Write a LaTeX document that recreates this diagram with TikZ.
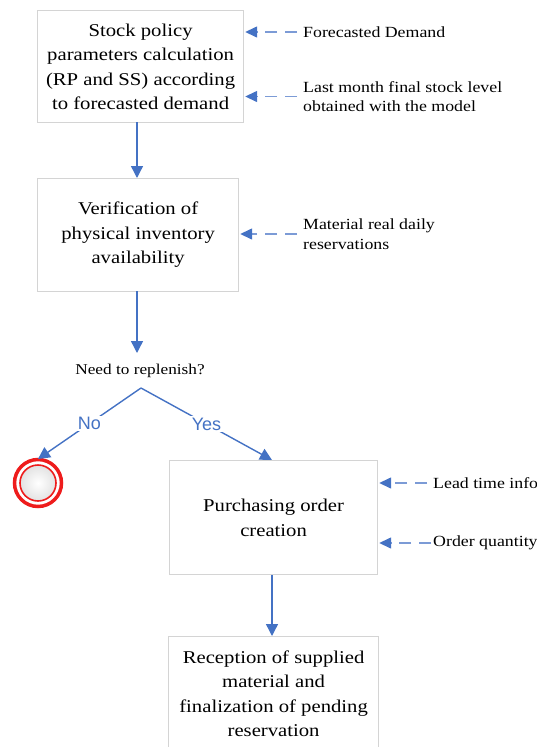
\documentclass[tikz,border=0pt]{standalone}
\usepackage{fontspec}
\setmainfont[FakeStretch=1.15]{Liberation Serif}
\newfontfamily\labelsans{Liberation Sans}
\usetikzlibrary{arrows.meta}
\definecolor{flowblue}{HTML}{4472C4}
\definecolor{dashblue}{HTML}{7C9BD6}
\definecolor{boxgray}{HTML}{D4D4D4}
\definecolor{stopred}{HTML}{EE1C1C}
\begin{document}
\begin{tikzpicture}[x=1pt,y=-1pt,
  stepbox/.style={draw=boxgray, line width=1.2pt, align=center,
    font=\fontsize{18}{24.5}\selectfont, inner sep=0pt, anchor=north west},
  flow/.style={draw=flowblue, line width=1.4pt, -{Triangle[length=12pt,width=12pt]}},
  feed/.style={draw=dashblue, line width=1.4pt, dash pattern=on 12pt off 8pt,
    -{Triangle[length=12pt,width=11pt,color=flowblue]}, shorten >=1pt},
  note/.style={font=\fontsize{15.5}{19.5}\selectfont, align=left, anchor=west, inner sep=0pt},
  branch/.style={font=\labelsans\fontsize{18}{20}\selectfont, text=flowblue, fill=white, inner sep=1.5pt},
]
\useasboundingbox (0,0) rectangle (537,747);
\clip (0,0) rectangle (537,747);

% process steps
\node[stepbox, minimum width=206pt, minimum height=112pt] (calc) at (37,10)
  {Stock policy\\parameters calculation\\(RP and SS) according\\to forecasted demand};
\node[stepbox, minimum width=201pt, minimum height=113pt] (verify) at (37,178)
  {Verification of\\physical inventory\\availability};
\node[stepbox, minimum width=208pt, minimum height=114pt] (order) at (169,460)
  {Purchasing order\\creation};
\node[stepbox, minimum width=210pt, minimum height=114pt] (receive) at (168,636)
  {Reception of supplied\\material and\\finalization of pending\\reservation};

% external inputs
\node[note] (fcast) at (303,32) {Forecasted Demand};
\node[note] (last) at (303,96.5) {Last month final stock level\\obtained with the model};
\node[note] (reserv) at (303,234) {Material real daily\\reservations};
\node[note] (lead) at (433,483) {Lead time info};
\node[note] (qty) at (433,543) {Order quantity};

\draw[feed] ([xshift=-6pt]fcast.west) -- (calc.east |- fcast.west);
\draw[feed] ([xshift=-6pt]last.west) -- (calc.east |- last.west);
\draw[feed] ([xshift=-6pt]reserv.west) -- (verify.east |- reserv.west);
\draw[feed] ([xshift=-6pt]lead.west) -- (order.east |- lead.west);
\draw[feed] ([xshift=-2pt]qty.west) -- (order.east |- qty.west);

% decision
\node[font=\fontsize{15}{17}\selectfont, inner sep=0pt] (ask) at (140,371) {Need to replenish?};
\coordinate (fork) at (141,388);
\coordinate (calcout) at (137,122);
\coordinate (verifyout) at (137,291);
\coordinate (askin) at (137,353);

% end state
\node[circle, draw=stopred, line width=3.5pt, minimum size=47pt, inner sep=0pt] (stop) at (38,483) {};
\shade[inner color=white, outer color=gray!22] (stop.center) circle (17.5pt);
\draw[stopred, line width=1.6pt] (stop.center) circle (18pt);

% control flow
\draw[flow] (calcout) -- (verify.north -| calcout);
\draw[flow] (verifyout) -- (askin);
\draw[flow] (fork) -- (38,459) node[branch, pos=0.5] {No};
\draw[flow] (fork) -- (order.north -| 272,0) node[branch, pos=0.5] {Yes};
\draw[flow] (order.south -| 272,0) -- (receive.north -| 272,0);
\end{tikzpicture}
\end{document}
